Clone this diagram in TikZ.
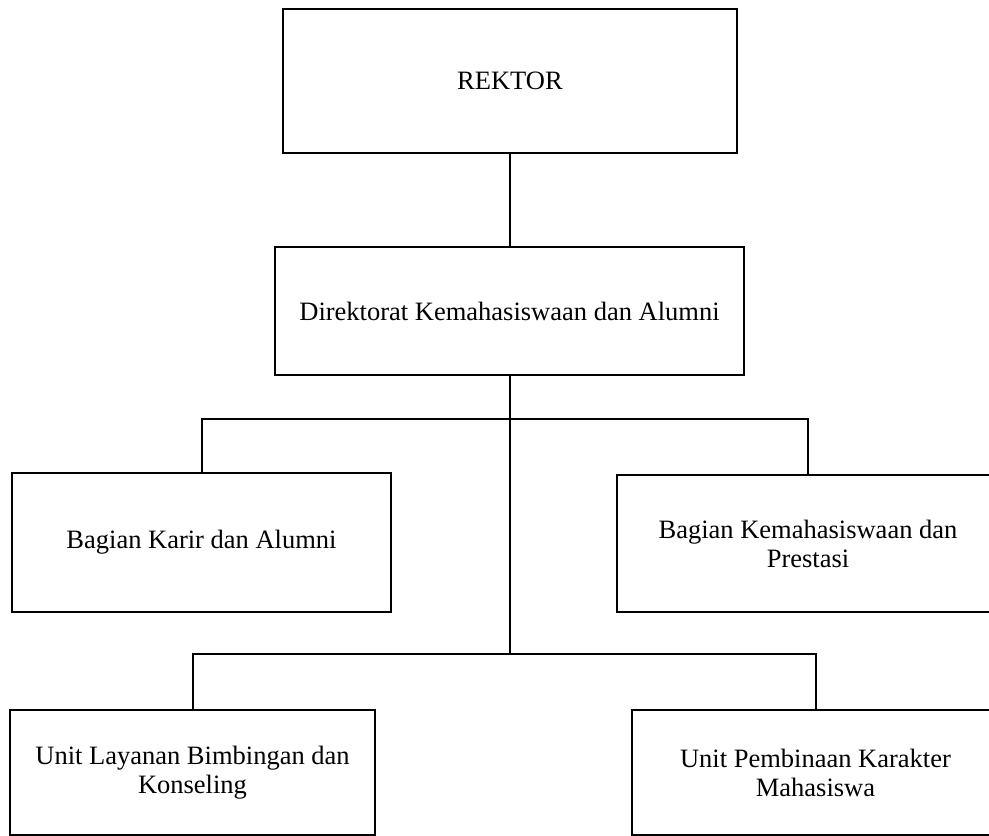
\documentclass[tikz,border=0pt]{standalone}
\usepackage{fontspec}
\setmainfont{Liberation Serif}
\begin{document}
\begin{tikzpicture}[x=1pt,y=-1pt,
  unitbox/.style={draw, line width=2pt, rectangle, inner sep=0pt, align=center,
    font=\fontsize{26.5}{29}\selectfont},
  link/.style={line width=2pt}]
\useasboundingbox (0,0) rectangle (989,836);

% boxes
\node[unitbox, minimum width=454pt, minimum height=144pt] (rektor) at (510,81) {REKTOR};
\node[unitbox, minimum width=469pt, minimum height=128pt] (dir) at (509.5,311) {Direktorat Kemahasiswaan dan Alumni};
\node[unitbox, minimum width=379pt, minimum height=139pt] (karir) at (201.5,542.5) {Bagian Karir dan Alumni};
\node[unitbox, minimum width=382pt, minimum height=137pt] (kemah) at (808,543.5) {Bagian Kemahasiswaan dan\\Prestasi};
\node[unitbox, minimum width=365pt, minimum height=125pt] (layanan) at (192.5,772.5) {Unit Layanan Bimbingan dan\\Konseling};
\node[unitbox, minimum width=367pt, minimum height=125pt] (pembinaan) at (815.5,772.5) {Unit Pembinaan Karakter\\Mahasiswa};

% junction points
\coordinate (j1) at (509.5,419);
\coordinate (j2) at (509.5,654);

% connectors
\draw[link] (rektor.south) -- (rektor.south |- dir.north);
\draw[link] (dir.south) -- (j2);
\draw[link] (karir.north) |- (j1) -| (kemah.north);
\draw[link] (layanan.north) |- (j2) -| (pembinaan.north);
\end{tikzpicture}
\end{document}
